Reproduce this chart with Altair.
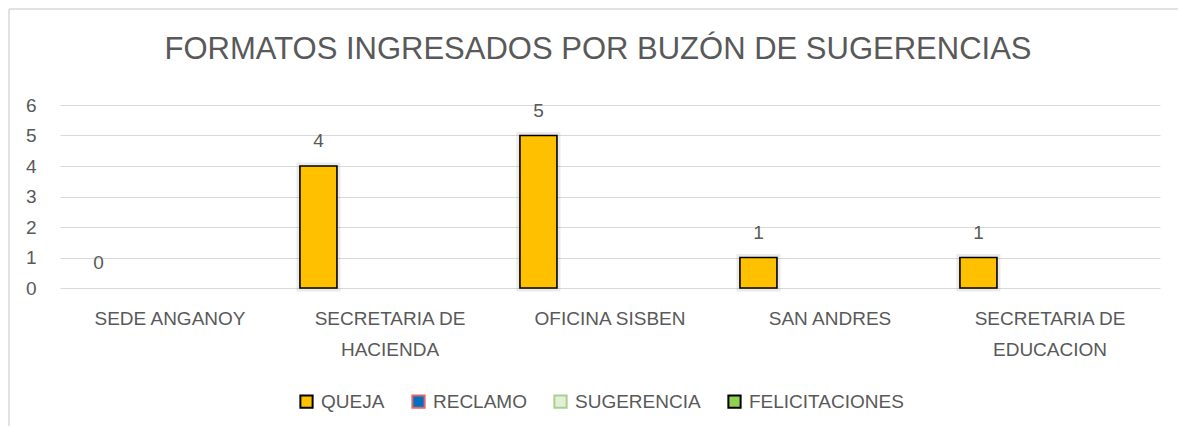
import altair as alt
import pandas as pd

title_text = "FORMATOS INGRESADOS POR  BUZÓN DE SUGERENCIAS"
categories = ["SEDE ANGANOY", "SECRETARIA DE HACIENDA", "OFICINA SISBEN", "SAN ANDRES", "SECRETARIA DE EDUCACION"]
series = ["QUEJA", "RECLAMO", "SUGERENCIA", "FELICITACIONES"]
queja = [0, 4, 5, 1, 1]
reclamo = [None, None, None, None, None]
sugerencia = [None, None, None, None, None]
felicitaciones = [None, None, None, None, None]
fill_colors = ["#FFC000", "#0070C0", "#E2F0D9", "#92D050"]
stroke_colors = ["#000000", "#E06666", "#A9D18E", "#000000"]
y_ticks = [0, 1, 2, 3, 4, 5, 6]

rows = []
for s, vals in zip(series, [queja, reclamo, sugerencia, felicitaciones]):
    for c, v in zip(categories, vals):
        rows.append({"cat": c, "series": s, "value": v})
df = pd.DataFrame(rows)

FONT = "Liberation Sans"
GRAY = "#595959"

x_enc = alt.X(
    "cat:N", sort=categories,
    scale=alt.Scale(paddingInner=0, paddingOuter=0),
    axis=alt.Axis(
        title=None, domain=False, ticks=False, labelAngle=0,
        labelFont=FONT, labelFontSize=19, labelColor=GRAY, labelPadding=21,
        labelLineHeight=31,
        labelExpr="indexof(datum.label, 'SECRETARIA DE ') == 0 ? ['SECRETARIA DE', substring(datum.label, 14)] : datum.label",
    ),
)
xo_enc = alt.XOffset(
    "series:N", sort=series,
    scale=alt.Scale(domain=series, paddingInner=0.224, paddingOuter=0.418),
)
y_enc = alt.Y(
    "value:Q",
    scale=alt.Scale(domain=[0, 6], nice=False),
    axis=alt.Axis(
        title=None, domain=False, ticks=False, values=y_ticks,
        labelFont=FONT, labelFontSize=19, labelColor=GRAY, labelPadding=24,
        gridColor="#D9D9D9", gridWidth=1.2,
    ),
)
color_enc = alt.Color(
    "series:N", sort=series,
    scale=alt.Scale(domain=series, range=fill_colors),
    legend=alt.Legend(
        title=None, orient="none", direction="horizontal",
        legendX=237, legendY=287,
        symbolType="square", symbolSize=150, symbolStrokeWidth=2,
        labelFont=FONT, labelFontSize=19, labelColor=GRAY, labelOffset=5,
        columnPadding=23,
    ),
)
stroke_enc = alt.Stroke(
    "series:N", sort=series,
    scale=alt.Scale(domain=series, range=stroke_colors),
    legend=None,
)

base = alt.Chart(df)
nonzero = base.transform_filter("isValid(datum.value) && datum.value > 0")

glow = nonzero.mark_bar(
    fill="#000000", fillOpacity=0.0, stroke="#000000", strokeOpacity=0.08, strokeWidth=7
).encode(x=x_enc, xOffset=xo_enc, y=y_enc)

bars = nonzero.mark_bar(strokeWidth=1.6).encode(
    x=x_enc, xOffset=xo_enc, y=y_enc, fill=color_enc, stroke=stroke_enc
)

labels = base.transform_filter("isValid(datum.value)").mark_text(
    font=FONT, fontSize=19, color=GRAY, baseline="middle", dy=-25
).encode(x=x_enc, xOffset=xo_enc, y=y_enc, text="value:Q")

one = pd.DataFrame({"t": [title_text]})
border = alt.Chart(one).mark_rule(color="#D9D9D9", strokeWidth=1.5).encode(
    x=alt.value(-51), x2=alt.value(-51), y=alt.value(-96), y2=alt.value(330)
)
border_top = alt.Chart(one).mark_rule(color="#D9D9D9", strokeWidth=1.5).encode(
    x=alt.value(-51), x2=alt.value(1120), y=alt.value(-96)
)
title = alt.Chart(one).mark_text(
    font=FONT, fontSize=31, color=GRAY, baseline="alphabetic", align="center"
).encode(x=alt.value(538), y=alt.value(-46), text="t:N")

chart = alt.layer(border, border_top, glow, bars, labels, title).properties(
    width=1100, height=183,
    autosize=alt.AutoSizeParams(type="none"),
    padding={"left": 52, "top": 97, "right": 18, "bottom": 138},
).configure_view(stroke=None)

chart.save("out.html", embed_options={"renderer": "svg", "actions": False})
